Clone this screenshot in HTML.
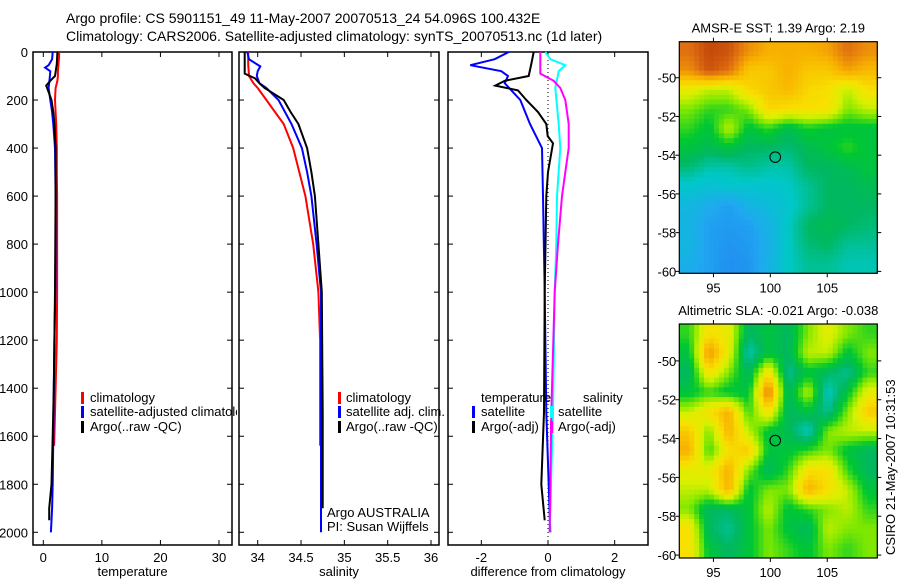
<!DOCTYPE html>
<html><head><meta charset="utf-8">
<style>
html,body{margin:0;padding:0;background:#fff;}
svg{display:block;font-family:"Liberation Sans",sans-serif;}
</style></head>
<body>
<svg id="c" width="900" height="580" viewBox="0 0 900 580">
<text x="66" y="23" font-size="14">Argo profile: CS 5901151_49 11-May-2007 20070513_24 54.096S 100.432E</text>
<text x="66" y="41" font-size="14">Climatology: CARS2006. Satellite-adjusted climatology: synTS_20070513.nc (1d later)</text>
</svg>
<script>
// ---------- data ----------
const tClimD=[0,20,50,80,100,120,150,200,250,300,400,500,600,800,1000,1200,1400,1600,1640];
const tClimV=[2.7,2.7,2.6,2.5,2.5,2.4,2.1,2.0,2.1,2.2,2.3,2.3,2.35,2.35,2.35,2.3,2.1,1.9,1.85];
const tSatD=[0,30,55,65,80,110,150,200,250,300,400,600,800,1000,1200,1400,1600,1800,1900,2000];
const tSatV=[1.6,1.5,0.9,0.3,1.2,1.1,0.9,1.2,1.5,1.7,2.0,2.1,2.1,2.05,1.9,1.8,1.7,1.6,1.5,1.3];
const tArgoD=[0,50,100,120,140,160,200,250,300,400,600,800,1000,1200,1400,1600,1800,1900,1950];
const tArgoV=[2.4,2.3,2.0,1.2,0.5,0.8,1.4,1.7,1.9,2.1,2.1,2.05,2.0,1.9,1.8,1.6,1.4,1.0,1.0];
const sClimD=[0,50,100,130,150,200,250,300,400,500,600,800,1000,1200,1500,1640];
const sClimV=[33.89,33.89,33.9,33.95,34.0,34.1,34.2,34.3,34.41,34.48,34.55,34.64,34.7,34.72,34.72,34.72];
const sSatD=[0,30,60,80,100,130,150,200,300,400,500,600,800,1000,1500,2000];
const sSatV=[33.88,33.9,34.03,34.0,33.99,34.02,34.1,34.24,34.39,34.51,34.57,34.62,34.68,34.73,34.73,34.73];
const sArgoD=[0,90,110,130,150,200,250,300,400,500,600,800,1000,1500,1900];
const sArgoV=[33.85,33.85,33.97,34.02,34.08,34.3,34.38,34.47,34.57,34.62,34.66,34.7,34.74,34.75,34.75];
const dTSatD=[0,30,55,80,100,130,200,300,400,600,1000,1500,2000];
const dTSatV=[-1.18,-1.6,-2.33,-1.4,-1.2,-1.3,-0.83,-0.54,-0.18,-0.15,-0.1,-0.05,0.07];
const dTArgoD=[0,50,100,120,140,160,200,250,300,350,380,500,600,1000,1500,1800,1950];
const dTArgoV=[-0.43,-0.5,-0.58,-1.3,-1.58,-0.9,-0.65,-0.3,-0.05,-0.01,0.15,0.0,-0.05,-0.1,-0.12,-0.2,-0.1];
const dSSatD=[0,30,55,80,150,300,400,600,800,1000,1500,2000];
const dSSatV=[-0.08,0.07,0.52,0.32,0.22,0.32,0.37,0.27,0.25,0.2,0.15,0.05];
const dSArgoD=[0,90,120,150,200,300,400,500,600,800,1000,1500,2000];
const dSArgoV=[-0.23,-0.23,0.17,0.37,0.52,0.62,0.62,0.52,0.42,0.3,0.2,0.1,0.05];
const depthTicks=[0,200,400,600,800,1000,1200,1400,1600,1800,2000];
const tTicks=[0,10,20,30];
const sTicks=[34,34.5,35,35.5,36];
const dTicks=[-2,0,2];
const mapLonTicks=[95,100,105];
const mapLatTicks=[-50,-52,-54,-56,-58,-60];
const sstGrid=[
[0.9,0.97,0.95,0.85,0.8,0.8,0.8,0.82,0.9,0.85],
[0.85,0.95,0.9,0.75,0.75,0.8,0.75,0.75,0.82,0.78],
[0.65,0.6,0.6,0.72,0.75,0.78,0.72,0.7,0.6,0.7],
[0.55,0.5,0.5,0.55,0.72,0.7,0.7,0.7,0.55,0.6],
[0.5,0.45,0.6,0.45,0.5,0.42,0.48,0.45,0.45,0.45],
[0.45,0.42,0.45,0.4,0.4,0.38,0.42,0.45,0.5,0.45],
[0.38,0.33,0.33,0.36,0.33,0.33,0.4,0.4,0.42,0.45],
[0.28,0.26,0.28,0.28,0.28,0.3,0.35,0.4,0.4,0.42],
[0.22,0.17,0.12,0.2,0.24,0.28,0.35,0.4,0.4,0.4],
[0.2,0.12,0.1,0.12,0.2,0.3,0.4,0.42,0.4,0.38],
[0.22,0.12,0.08,0.1,0.18,0.3,0.38,0.4,0.35,0.35],
[0.18,0.12,0.06,0.08,0.2,0.3,0.35,0.35,0.32,0.32]];
const slaGrid=[
[0.5,0.7,0.65,0.4,0.45,0.4,0.55,0.65,0.55,0.5],
[0.45,0.85,0.65,0.32,0.45,0.4,0.6,0.6,0.45,0.55],
[0.4,0.7,0.55,0.4,0.7,0.35,0.45,0.4,0.35,0.5],
[0.45,0.5,0.45,0.45,0.9,0.4,0.6,0.3,0.45,0.65],
[0.6,0.7,0.8,0.5,0.7,0.4,0.45,0.35,0.55,0.75],
[0.75,0.55,0.8,0.6,0.45,0.42,0.3,0.55,0.6,0.6],
[0.8,0.5,0.7,0.75,0.45,0.45,0.5,0.55,0.45,0.4],
[0.65,0.65,0.8,0.55,0.4,0.5,0.7,0.7,0.5,0.4],
[0.6,0.6,0.8,0.45,0.55,0.55,0.8,0.7,0.6,0.45],
[0.55,0.4,0.4,0.45,0.6,0.45,0.5,0.55,0.6,0.5],
[0.7,0.4,0.35,0.45,0.55,0.45,0.4,0.6,0.55,0.55],
[0.7,0.45,0.4,0.45,0.55,0.5,0.45,0.55,0.5,0.55]];
const floatLon=100.43, floatLat=-54.1;

// ---------- drawing ----------
const NS="http://www.w3.org/2000/svg";
const svg=document.getElementById('c');
function mk(tag,attrs,parent){const e=document.createElementNS(NS,tag);for(const k in attrs)e.setAttribute(k,attrs[k]);(parent||svg).appendChild(e);return e;}
function lin(d0,d1,r0,r1){return v=>r0+(v-d0)*(r1-r0)/(d1-d0);}
const TOP=52, BOT=545;
const yD=lin(0,2000,52,532.3);

function panel(name,x0,x1,xs,xt,xlabel,showY){
  const g=mk('g',{});
  
  
  const fr=mk('rect',{x:x0,y:TOP,width:x1-x0,height:BOT-TOP,fill:'none',stroke:'#000','stroke-width':1.5},g);
  
  
  depthTicks.forEach(d=>{
    const y=yD(d);
    mk('line',{x1:x0,x2:x0+5,y1:y,y2:y,stroke:'#000'},g);
    mk('line',{x1:x1-5,x2:x1,y1:y,y2:y,stroke:'#000'},g);
    if(showY){const t=mk('text',{x:x0-5,y:y+5,'font-size':13,'text-anchor':'end'},g);t.textContent=d;
      }
  });
  xt.forEach(v=>{
    const x=xs(v);
    mk('line',{x1:x,x2:x,y1:BOT,y2:BOT-5,stroke:'#000'},g);
    mk('line',{x1:x,x2:x,y1:TOP,y2:TOP+5,stroke:'#000'},g);
    const t=mk('text',{x:x,y:BOT+17,'font-size':13,'text-anchor':'middle'},g);t.textContent=v;
    
  });
  const xl=mk('text',{x:(x0+x1)/2,y:BOT+31,'font-size':13,'text-anchor':'middle'},g);xl.textContent=xlabel;
  
  return g;
}
function series(g,name,D,V,xs,color){
  const p=D.map((d,i)=>xs(V[i]).toFixed(1)+','+yD(d).toFixed(1)).join(' ');
  const l=mk('polyline',{points:p,fill:'none',stroke:color,'stroke-width':2,'stroke-linejoin':'miter'},g);
  
  
}
function legend(g,name,x,y,color,label,barX){
  mk('rect',{x:barX,y:y-10,width:3,height:12,fill:color},g);
  const t=mk('text',{x:x,y:y,'font-size':13},g);t.textContent=label;
  
}

// panel 1 temperature
const xT=lin(0,30,43.3,219);
const g1=panel('temperature',33,232,xT,tTicks,'temperature',true);
series(g1,'temperature-climatology-line',tClimD,tClimV,xT,'#f00');
series(g1,'temperature-satellite-line',tSatD,tSatV,xT,'#00f');
series(g1,'temperature-argo-line',tArgoD,tArgoV,xT,'#000');
const defs=mk('defs',{});
const cp=mk('clipPath',{id:'clipLeg1'},defs);mk('rect',{x:0,y:0,width:237,height:580},cp);
const lg1=mk('g',{'clip-path':'url(#clipLeg1)'});

legend(lg1,'legend-climatology',90,402,'#f00','climatology',81);
legend(lg1,'legend-satellite-adjusted',90,416,'#00f','satellite-adjusted climatology',81);
legend(lg1,'legend-argo',90,431,'#000','Argo(..raw -QC)',81);

// panel 2 salinity
const xS=lin(34,36,257.7,431);
const g2=panel('salinity',239,439,xS,sTicks,'salinity',false);
series(g2,'salinity-climatology-line',sClimD,sClimV,xS,'#f00');
series(g2,'salinity-satellite-line',sSatD,sSatV,xS,'#00f');
series(g2,'salinity-argo-line',sArgoD,sArgoV,xS,'#000');
legend(g2,'legend-climatology-s',346,402,'#f00','climatology',338);
legend(g2,'legend-satellite-s',346,416,'#00f','satellite adj. clim.',338);
legend(g2,'legend-argo-s',346,431,'#000','Argo(..raw -QC)',338);
const a1=mk('text',{x:327,y:517,'font-size':13},g2);a1.textContent='Argo AUSTRALIA';

const a2=mk('text',{x:327,y:531,'font-size':13},g2);a2.textContent='PI: Susan Wijffels';


// panel 3 differences
const xDf=lin(-3,3,448,648);
const g3=panel('difference',448,648,xDf,dTicks,'difference from climatology',false);
mk('line',{x1:xDf(0),x2:xDf(0),y1:TOP,y2:BOT,stroke:'#000','stroke-dasharray':'1,3'},g3);
series(g3,'temp-diff-satellite-line',dTSatD,dTSatV,xDf,'#00f');
series(g3,'temp-diff-argo-line',dTArgoD,dTArgoV,xDf,'#000');
series(g3,'sal-diff-satellite-line',dSSatD,dSSatV,xDf,'#0ff');
series(g3,'sal-diff-argo-line',dSArgoD,dSArgoV,xDf,'#f0f');
const tl=mk('text',{x:481,y:402,'font-size':13},g3);tl.textContent='temperature';

const sl=mk('text',{x:583,y:402,'font-size':13},g3);sl.textContent='salinity';

legend(g3,'legend-temp-satellite',481,416,'#00f','satellite',472);
legend(g3,'legend-temp-argo',481,431,'#000','Argo(-adj)',472);
legend(g3,'legend-sal-satellite',558,416,'#0ff','satellite',550);
legend(g3,'legend-sal-argo',558,431,'#f0f','Argo(-adj)',550);

// ---------- maps ----------
const stops=[[0,'#2080f0'],[0.15,'#20a8f0'],[0.3,'#00c8c8'],[0.4,'#00b860'],[0.47,'#00c830'],[0.55,'#80e800'],[0.62,'#d8f000'],[0.7,'#f8e000'],[0.8,'#f8b000'],[0.9,'#e07010'],[1,'#b83808']];
function hx(c){return [1,3,5].map(i=>parseInt(c.substr(i,2),16));}
function cmap(v){v=Math.max(0,Math.min(1,v));for(let i=1;i<stops.length;i++){if(v<=stops[i][0]){const f=(v-stops[i-1][0])/(stops[i][0]-stops[i-1][0]);const a=hx(stops[i-1][1]),b=hx(stops[i][1]);return 'rgb('+a.map((x,k)=>Math.round(x+(b[k]-x)*f)).join(',')+')';}}return stops[stops.length-1][1];}
function sample(grid,fx,fy){
  const R=grid.length,C=grid[0].length;
  fx=Math.max(0,Math.min(C-1,fx));fy=Math.max(0,Math.min(R-1,fy));
  const x0=Math.floor(fx),y0=Math.floor(fy),x1=Math.min(C-1,x0+1),y1=Math.min(R-1,y0+1);
  const tx=fx-x0,ty=fy-y0;
  return grid[y0][x0]*(1-tx)*(1-ty)+grid[y0][x1]*tx*(1-ty)+grid[y1][x0]*(1-tx)*ty+grid[y1][x1]*tx*ty;
}
function drawMap(name,grid,L,R,T,B,latTop,latBot,title){
  const g=mk('g',{});
  
  const xs=lin(92,109.4,L,R), ys=lin(latTop,latBot,T,B);
  const SUB=4,C=grid[0].length,Rn=grid.length;
  const nx=C*SUB,ny=Rn*SUB,cw=(R-L)/nx,ch=(B-T)/ny;
  for(let j=0;j<ny;j++)for(let i=0;i<nx;i++){
    const v=sample(grid,(i+0.5)/SUB-0.5,(j+0.5)/SUB-0.5);
    const r=mk('rect',{x:(L+i*cw).toFixed(2),y:(T+j*ch).toFixed(2),width:(cw+0.4).toFixed(2),height:(ch+0.4).toFixed(2),fill:cmap(v)},g);
    
    
  }
  mk('rect',{x:L,y:T,width:R-L,height:B-T,fill:'none',stroke:'#000','stroke-width':1.2},g);
  mapLonTicks.forEach(v=>{const x=xs(v);
    mk('line',{x1:x,x2:x,y1:B,y2:B+4,stroke:'#000'},g);mk('line',{x1:x,x2:x,y1:T,y2:T-4,stroke:'#000'},g);
    const t=mk('text',{x:x,y:B+19,'font-size':13,'text-anchor':'middle'},g);t.textContent=v;
    });
  mapLatTicks.forEach(v=>{const y=ys(v);
    mk('line',{x1:L-4,x2:L,y1:y,y2:y,stroke:'#000'},g);mk('line',{x1:R,x2:R+4,y1:y,y2:y,stroke:'#000'},g);
    const t=mk('text',{x:L-3,y:y+5,'font-size':13,'text-anchor':'end'},g);t.textContent=v;
    });
  const c=mk('circle',{cx:xs(floatLon),cy:ys(floatLat),r:5.3,fill:'none',stroke:'#000','stroke-width':1},g);
  
  const tt=mk('text',{x:(L+R)/2,y:T-9,'font-size':13,'text-anchor':'middle'},g);tt.textContent=title;
  
}
drawMap('sst-map',sstGrid,679.3,877.3,41.7,273.3,-48.14,-60.1,'AMSR-E SST: 1.39 Argo: 2.19');
drawMap('sla-map',slaGrid,679.3,877.3,324,558,-48.1,-60.15,'Altimetric SLA: -0.021  Argo: -0.038');
const cs=mk('text',{x:0,y:0,'font-size':13,transform:'translate(895,555) rotate(-90)'});
cs.textContent='CSIRO 21-May-2007 10:31:53';

</script>
</body></html>
